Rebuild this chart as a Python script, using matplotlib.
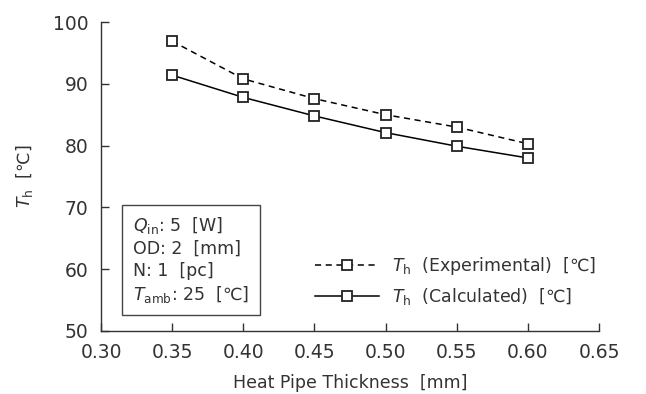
import matplotlib
matplotlib.use("Agg")
import matplotlib.pyplot as plt

plt.rcParams['font.family'] = ['DejaVu Sans', 'Noto Sans CJK JP']
plt.rcParams['mathtext.fontset'] = 'dejavusans'

thickness = [0.35, 0.40, 0.45, 0.50, 0.55, 0.60]
th_experimental = [96.9, 90.8, 87.6, 85.0, 83.0, 80.3]
th_calculated = [91.4, 87.8, 84.8, 82.1, 79.9, 78.0]
xticks = [0.30, 0.35, 0.40, 0.45, 0.50, 0.55, 0.60, 0.65]
yticks = [50, 60, 70, 80, 90, 100]

TXT = '#333333'
FS = 12.5
TFS = 13.5

fig = plt.figure(figsize=(6.46, 3.94), dpi=100)
ax = fig.add_axes([101/646, 1-331/394, (599-101)/646, (331-22)/394])

ax.plot(thickness, th_experimental, linestyle=(0, (4, 3)), color='black', lw=1.1,
        marker='s', markersize=6.5, markerfacecolor='white', markeredgecolor='#222222',
        markeredgewidth=1.3, label='$T_\\mathrm{h}$  (Experimental)  [℃]')
ax.plot(thickness, th_calculated, linestyle='-', color='black', lw=1.1,
        marker='s', markersize=6.5, markerfacecolor='white', markeredgecolor='#222222',
        markeredgewidth=1.3, label='$T_\\mathrm{h}$  (Calculated)  [℃]')

ax.set_xlim(0.30, 0.65)
ax.set_ylim(50, 100)
ax.set_xticks(xticks)
ax.set_xticklabels([f'{v:.2f}' for v in xticks])
ax.set_yticks(yticks)
for s in ['top', 'right']:
    ax.spines[s].set_visible(False)
for s in ['left', 'bottom']:
    ax.spines[s].set_color('#333333')
    ax.spines[s].set_linewidth(1.0)
ax.tick_params(direction='in', length=6, width=1.0, color='#333333',
               labelsize=TFS, labelcolor=TXT)
ax.tick_params(axis='x', pad=9)
ax.tick_params(axis='y', pad=9)

ax.set_xlabel('Heat Pipe Thickness  [mm]', fontsize=FS, color=TXT, labelpad=8)
ax.set_ylabel('$T_\\mathrm{h}$  [℃]', fontsize=FS, color=TXT, labelpad=13)

leg = ax.legend(loc='upper left', bbox_to_anchor=(0.4157, 0.268), borderaxespad=0,
                frameon=False, fontsize=FS, handlelength=3.7, handletextpad=0.75,
                labelspacing=0.5)
for t in leg.get_texts():
    t.set_color(TXT)

ax.text(0.064, 0.085,
        '$Q_\\mathrm{in}$: 5  [W]\nOD: 2  [mm]\nN: 1  [pc]\n$T_\\mathrm{amb}$: 25  [℃]',
        transform=ax.transAxes, fontsize=FS, color=TXT, va='bottom', ha='left',
        linespacing=1.26,
        bbox=dict(boxstyle='square,pad=0.6', facecolor='white', edgecolor='#444444', lw=1.0))

fig.savefig('out.png', dpi=100)
